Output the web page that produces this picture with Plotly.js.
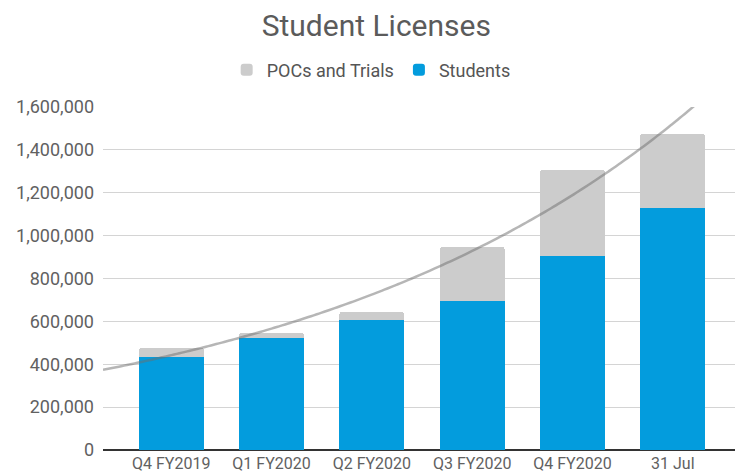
<!DOCTYPE html>
<html><head><meta charset="utf-8">
<script src="https://cdn.plot.ly/plotly-3.0.1.min.js"></script>
<style>html,body{margin:0;padding:0;background:#fff}#chart{width:735px;height:475px}</style>
</head><body><div id="chart"></div>
<script>
const categories = ["Q4 FY2019", "Q1 FY2020", "Q2 FY2020", "Q3 FY2020", "Q4 FY2020", "31 Jul"];
const students = [435000, 522000, 606000, 695000, 905000, 1129000];
const pocsTrials = [41000, 24000, 38000, 252000, 401000, 345000];

const xIdx = categories.map((_, i) => i);
const totals = students.map((s, i) => s + pocsTrials[i]);

// exponential trendline (least-squares fit of ln(total) on category index)
const n = totals.length;
const lnT = totals.map(v => Math.log(v));
const mx = xIdx.reduce((a, b) => a + b, 0) / n;
const my = lnT.reduce((a, b) => a + b, 0) / n;
let sxy = 0, sxx = 0;
for (let i = 0; i < n; i++) { sxy += (xIdx[i] - mx) * (lnT[i] - my); sxx += (xIdx[i] - mx) ** 2; }
const slope = sxy / sxx, icpt = my - slope * mx;
const xr = [-0.68, 5.62];
const trendX = [], trendY = [];
for (let k = 0; k <= 120; k++) {
  const x = xr[0] + (xr[1] - xr[0]) * k / 120;
  trendX.push(x); trendY.push(Math.exp(icpt + slope * x));
}

const font = "Roboto, 'Noto Sans', sans-serif";
const data = [
  { type: "bar", name: "Students", x: xIdx, y: students, marker: { color: "#039cdd" } },
  { type: "bar", name: "POCs and Trials", x: xIdx, y: pocsTrials, marker: { color: "#cccccc" } },
  { type: "scatter", mode: "lines", x: trendX, y: trendY, showlegend: false, hoverinfo: "skip",
    line: { color: "rgba(110,110,110,0.5)", width: 2.5, shape: "spline" } }
];
const layout = {
  width: 735, height: 475,
  margin: { l: 103, r: 0, t: 107, b: 25 },
  paper_bgcolor: "#fff", plot_bgcolor: "#fff",
  barmode: "stack", bargap: 0.35, barcornerradius: 3,
  font: { family: font, color: "#616161", size: 16 },
  title: { text: "Student Licenses", font: { family: font, size: 30, color: "#5b5b5b" },
           x: 0.512, xanchor: "center", xref: "container", y: 0.947, yanchor: "middle", yref: "container" },
  showlegend: true,
  legend: { orientation: "h", traceorder: "reversed", x: 0.505, xanchor: "center", xref: "container",
            y: 1 - 70 / 475, yanchor: "middle", yref: "container", font: { size: 18, color: "#555" },
            itemwidth: 30 },
  xaxis: { range: xr, tickmode: "array", tickvals: xIdx, ticktext: categories, showgrid: false,
           zeroline: false, showline: false, ticks: "", ticklabelstandoff: 2,
           tickfont: { size: 16, color: "#616161" } },
  yaxis: { range: [0, 1600000], dtick: 200000, tickformat: ",d", gridcolor: "#d4d4d4", gridwidth: 1.2,
           zeroline: true, zerolinecolor: "#333", zerolinewidth: 2, ticks: "", ticklabelstandoff: 8,
           tickfont: { size: 18, color: "#616161" } }
};
Plotly.newPlot("chart", data, layout, { staticPlot: true, displayModeBar: false });
</script></body></html>
